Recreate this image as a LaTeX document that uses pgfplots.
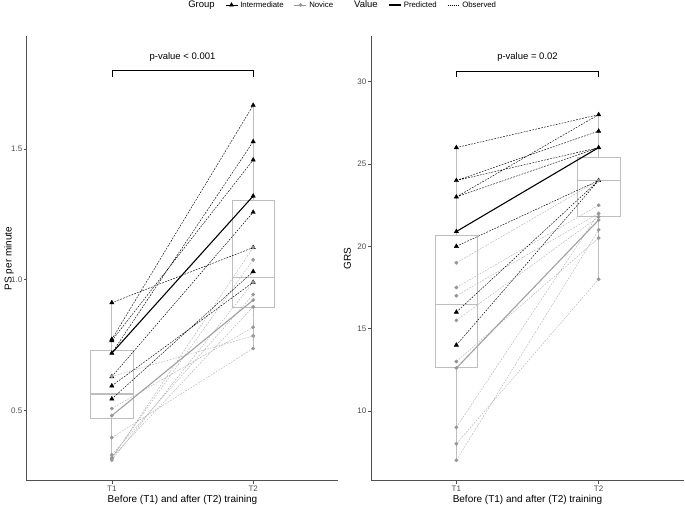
\documentclass[border=0pt]{standalone}
\usepackage{pgfplots}
\pgfplotsset{compat=1.18}
\usepgfplotslibrary{statistics}
\usepackage{fontspec}
\setmainfont{Liberation Sans}
\definecolor{axcol}{RGB}{80,80,80}
\definecolor{boxcol}{RGB}{190,190,190}
\definecolor{novpt}{RGB}{150,150,150}
\definecolor{novln}{RGB}{180,180,180}
\definecolor{novpred}{RGB}{160,160,160}
\definecolor{ticklab}{RGB}{77,77,77}
\pgfplotsset{
 panel/.style={
   scale only axis, height=445pt,
   axis x line*=bottom, axis y line*=left,
   axis line style={axcol, line width=1pt},
   tick style={axcol, line width=0.6pt},
   major tick length=3pt,
   tick align=outside,
   xmin=0.4, xmax=2.6, xtick={1,2}, xticklabels={T1,T2},
   ticklabel style={font=\fontsize{8}{9}\selectfont, text=ticklab},
   xticklabel style={inner sep=1.5pt},
   yticklabel style={inner sep=1.5pt},
   /pgf/number format/assume math mode=true,
   label style={font=\fontsize{10.8}{12}\selectfont},
   xlabel={Before (T1) and after (T2) training},
   every axis x label/.style={at={(axis description cs:0.5,0)}, anchor=base, yshift=-22pt},
   unbounded coords=jump,
   clip=false,
 },
 obsI/.style={black, line width=0.45pt, dash pattern=on 1.8pt off 1.2pt, no marks, forget plot},
 obsN/.style={novln, line width=0.45pt, dash pattern=on 1.8pt off 1.2pt, no marks, forget plot},
 predI/.style={black, line width=1.1pt, no marks, forget plot},
 predN/.style={novpred, line width=1.1pt, no marks, forget plot},
 triI/.style={only marks, mark=triangle*, mark size=2.5pt, mark options={black, fill=black}, forget plot},
 dotN/.style={only marks, mark=*, mark size=1.7pt, mark options={novpt, fill=novpt}, forget plot},
 bx/.style={draw=boxcol, line width=0.7pt, solid, forget plot, boxplot/draw direction=y, boxplot/every median/.style={line width=1.2pt}},
}
\begin{document}
\begin{tikzpicture}
\path[use as bounding box] (0,0) rectangle (685pt,505pt);
% ---------------- left panel ----------------
\begin{axis}[panel, width=311pt, at={(27pt,24pt)}, anchor=south west,
  ymin=0.23, ymax=1.932, ytick={0.5,1.0,1.5},
  yticklabel style={/pgf/number format/.cd, fixed, fixed zerofill, precision=1},
  ylabel={PS per minute},
  every axis y label/.style={at={(axis description cs:-0.058,0.5)}, anchor=center, rotate=90},
  legend columns=-1,
  legend style={at={(1.0135,1.0697)}, anchor=center, draw=none, fill=none,
    font=\fontsize{7.8}{8}\selectfont, inner sep=0pt,
    nodes={inner sep=2.5pt},
    /tikz/every even column/.append style={column sep=8pt}},
  legend image code/.code={\draw[mark repeat=2,mark phase=2,#1] plot coordinates {(0pt,0pt) (6pt,0pt) (12pt,0pt)};},
]
\addplot[bx, boxplot prepared={lower whisker=0.31, lower quartile=0.470, median=0.563, upper quartile=0.731, upper whisker=0.912, draw position=1, box extend=0.3, whisker extend=0}] coordinates {};
\addplot[bx, boxplot prepared={lower whisker=0.737, lower quartile=0.896, median=1.008, upper quartile=1.305, upper whisker=1.667, draw position=2, box extend=0.3, whisker extend=0}] coordinates {};
% observed, novice
\addplot[obsN] coordinates {(1,0.630) (2,0.785) (1.5,nan) (1,0.507) (2,0.818) (1.5,nan) (1,0.396) (2,0.737) (1.5,nan) (1,0.330) (2,0.943) (1.5,nan) (1,0.320) (2,1.076) (1.5,nan) (1,0.316) (2,1.123) (1.5,nan) (1,0.310) (2,0.990) (1.5,nan) (1,0.320) (2,0.896)};
% observed, intermediate
\addplot[obsI] coordinates {(1,0.912) (2,1.123) (1.5,nan) (1,0.772) (2,1.667) (1.5,nan) (1,0.767) (2,1.458) (1.5,nan) (1,0.719) (2,1.528) (1.5,nan) (1,0.629) (2,1.258) (1.5,nan) (1,0.594) (2,0.990) (1.5,nan) (1,0.544) (2,1.031)};
% predicted
\addplot[predN] coordinates {(1,0.480) (2,0.922)};
\addplot[predI] coordinates {(1,0.719) (2,1.320)};
% points
\addplot[triI] coordinates {(1,0.912) (1,0.772) (1,0.767) (1,0.719) (1,0.629) (1,0.594) (1,0.544) (2,1.667) (2,1.528) (2,1.458) (2,1.320) (2,1.258) (2,1.123) (2,1.031) (2,0.990)};
\addplot[dotN] coordinates {(1,0.630) (1,0.507) (1,0.480) (1,0.396) (1,0.330) (1,0.320) (1,0.316) (1,0.310) (2,0.785) (2,0.818) (2,0.737) (2,0.943) (2,1.076) (2,1.123) (2,0.990) (2,0.896) (2,0.922)};
% bracket
\addplot[black, line width=0.6pt, no marks, forget plot] coordinates {(1,1.776) (1,1.800) (2,1.800) (2,1.776)};
\node[font=\fontsize{9.5}{10}\selectfont] at (axis cs:1.5,1.853) {p-value < 0.001};
% legend
\addlegendimage{empty legend}\addlegendentry{\fontsize{9.5}{10}\selectfont Group}
\addlegendimage{black, mark=triangle*, mark size=2.2pt, line width=0.6pt}\addlegendentry{Intermediate}
\addlegendimage{novpt, mark=*, mark size=1.5pt, line width=0.6pt, mark options={fill=novpt}}\addlegendentry{Novice}
\addlegendimage{empty legend}\addlegendentry{\hspace{8pt}\fontsize{9.5}{10}\selectfont Value}
\addlegendimage{black, line width=1.1pt}\addlegendentry{Predicted}
\addlegendimage{black, line width=0.5pt, dash pattern=on 1pt off 1pt}\addlegendentry{Observed}
\end{axis}
% ---------------- right panel ----------------
\begin{axis}[panel, width=313pt, at={(371pt,24pt)}, anchor=south west,
  ymin=5.74, ymax=32.78, ytick={10,15,20,25,30},
  ylabel={GRS},
  every axis y label/.style={at={(axis description cs:-0.075,0.5)}, anchor=center, rotate=90},
]
\addplot[bx, boxplot prepared={lower whisker=7, lower quartile=12.63, median=16.48, upper quartile=20.66, upper whisker=26, draw position=1, box extend=0.3, whisker extend=0}] coordinates {};
\addplot[bx, boxplot prepared={lower whisker=18, lower quartile=21.8, median=24.02, upper quartile=25.4, upper whisker=28, draw position=2, box extend=0.3, whisker extend=0}] coordinates {};
\addplot[obsN] coordinates {(1,19) (2,24) (1.5,nan) (1,17.5) (2,22.5) (1.5,nan) (1,17) (2,22) (1.5,nan) (1,15.5) (2,21.8) (1.5,nan) (1,13) (2,20.5) (1.5,nan) (1,9) (2,22) (1.5,nan) (1,8) (2,18) (1.5,nan) (1,7) (2,21)};
\addplot[obsI] coordinates {(1,26) (2,28) (1.5,nan) (1,24) (2,27) (1.5,nan) (1,24) (2,26) (1.5,nan) (1,23) (2,28) (1.5,nan) (1,23) (2,26) (1.5,nan) (1,20) (2,24) (1.5,nan) (1,16) (2,24) (1.5,nan) (1,14) (2,24)};
\addplot[predN] coordinates {(1,12.6) (2,21.6)};
\addplot[predI] coordinates {(1,20.9) (2,26.0)};
\addplot[triI] coordinates {(1,26) (1,24) (1,23) (1,20.9) (1,20) (1,16) (1,14) (2,28) (2,27) (2,26) (2,24)};
\addplot[dotN] coordinates {(1,19) (1,17.5) (1,17) (1,15.5) (1,13) (1,12.6) (1,9) (1,8) (1,7) (2,24) (2,22.5) (2,22) (2,21.8) (2,21.6) (2,21) (2,20.5) (2,18)};
\addplot[black, line width=0.6pt, no marks, forget plot] coordinates {(1,30.30) (1,30.66) (2,30.66) (2,30.30)};
\node[font=\fontsize{9.5}{10}\selectfont] at (axis cs:1.5,31.52) {p-value = 0.02};
\end{axis}
\end{tikzpicture}
\end{document}
